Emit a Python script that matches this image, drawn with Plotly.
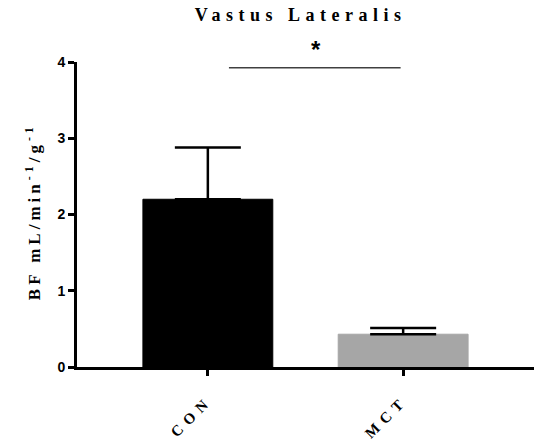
import plotly.graph_objects as go

# Blood flow in the vastus lateralis, mean + SEM per group
groups = ["CON", "MCT"]
mean_flow = [2.20, 0.43]
sem_flow = [0.68, 0.08]
bar_colors = ["#000000", "#a6a6a6"]
y_ticks = [0, 1, 2, 3, 4]

serif = "Liberation Serif"
sans = "Liberation Sans"

fig = go.Figure()
fig.add_trace(go.Bar(
    x=groups,
    y=mean_flow,
    width=0.665,
    marker=dict(color=bar_colors, line=dict(color=bar_colors, width=1)),
    error_y=dict(type="data", array=sem_flow, arrayminus=[0, 0], symmetric=False,
                 color="#000000", thickness=2.5, width=33),
    showlegend=False,
))

# significance bracket between the two groups
fig.add_shape(type="line", xref="x", yref="y", x0=0.108, x1=0.987, y0=3.925, y1=3.925,
              line=dict(color="#404040", width=1.5))
fig.add_annotation(x=0.523, y=1.04, xref="paper", yref="paper", text="*", showarrow=False,
                   font=dict(family=sans, size=24, color="#000000", weight="bold"),
                   xanchor="center", yanchor="middle")

# y-axis title
fig.add_annotation(x=-0.0963, y=0.511, xref="paper", yref="paper",
                   text="BF mL/min<sup>-1</sup>/g<sup>-1</sup>", textangle=-90,
                   showarrow=False, xanchor="center", yanchor="middle",
                   font=dict(family=serif, size=17, color="#000000", weight="bold"))

fig.update_layout(
    width=535, height=446,
    margin=dict(l=77, r=1, t=62, b=79),
    paper_bgcolor="white", plot_bgcolor="white",
    bargap=0.335,
    title=dict(text="Vastus Lateralis", x=0.562, y=0.968, xanchor="center", yanchor="middle",
               font=dict(family=serif, size=18, color="#000000", weight="bold")),
    xaxis=dict(
        type="category", range=[-0.67, 1.67],
        showline=True, linecolor="#000000", linewidth=3,
        ticks="outside", ticklen=6, tickwidth=3, tickcolor="#000000",
        tickangle=-45, ticklabelstandoff=10,
        tickfont=dict(family=serif, size=15, color="#000000", weight="bold"),
        showgrid=False, zeroline=False,
    ),
    yaxis=dict(
        range=[0, 4], tickvals=y_ticks, ticktext=[str(v) for v in y_ticks],
        showline=True, linecolor="#000000", linewidth=3,
        ticks="outside", ticklen=6, tickwidth=3, tickcolor="#000000",
        tickfont=dict(family=sans, size=14, color="#000000", weight="bold"),
        showgrid=False, zeroline=False,
    ),
)

# widen the letter spacing of the serif labels
spacing_js = """
var gd = document.getElementById('{plot_id}');
function spread(sel, px) {
  gd.querySelectorAll(sel).forEach(function (el) { el.style.letterSpacing = px; });
}
spread('.gtitle', '5.5px');
spread('.xtick text', '6px');
gd.querySelectorAll('.annotation-text').forEach(function (el) {
  if (el.textContent.length > 2) { el.style.letterSpacing = '4px'; }
});
"""

fig.write_html("out.html", post_script=spacing_js)
